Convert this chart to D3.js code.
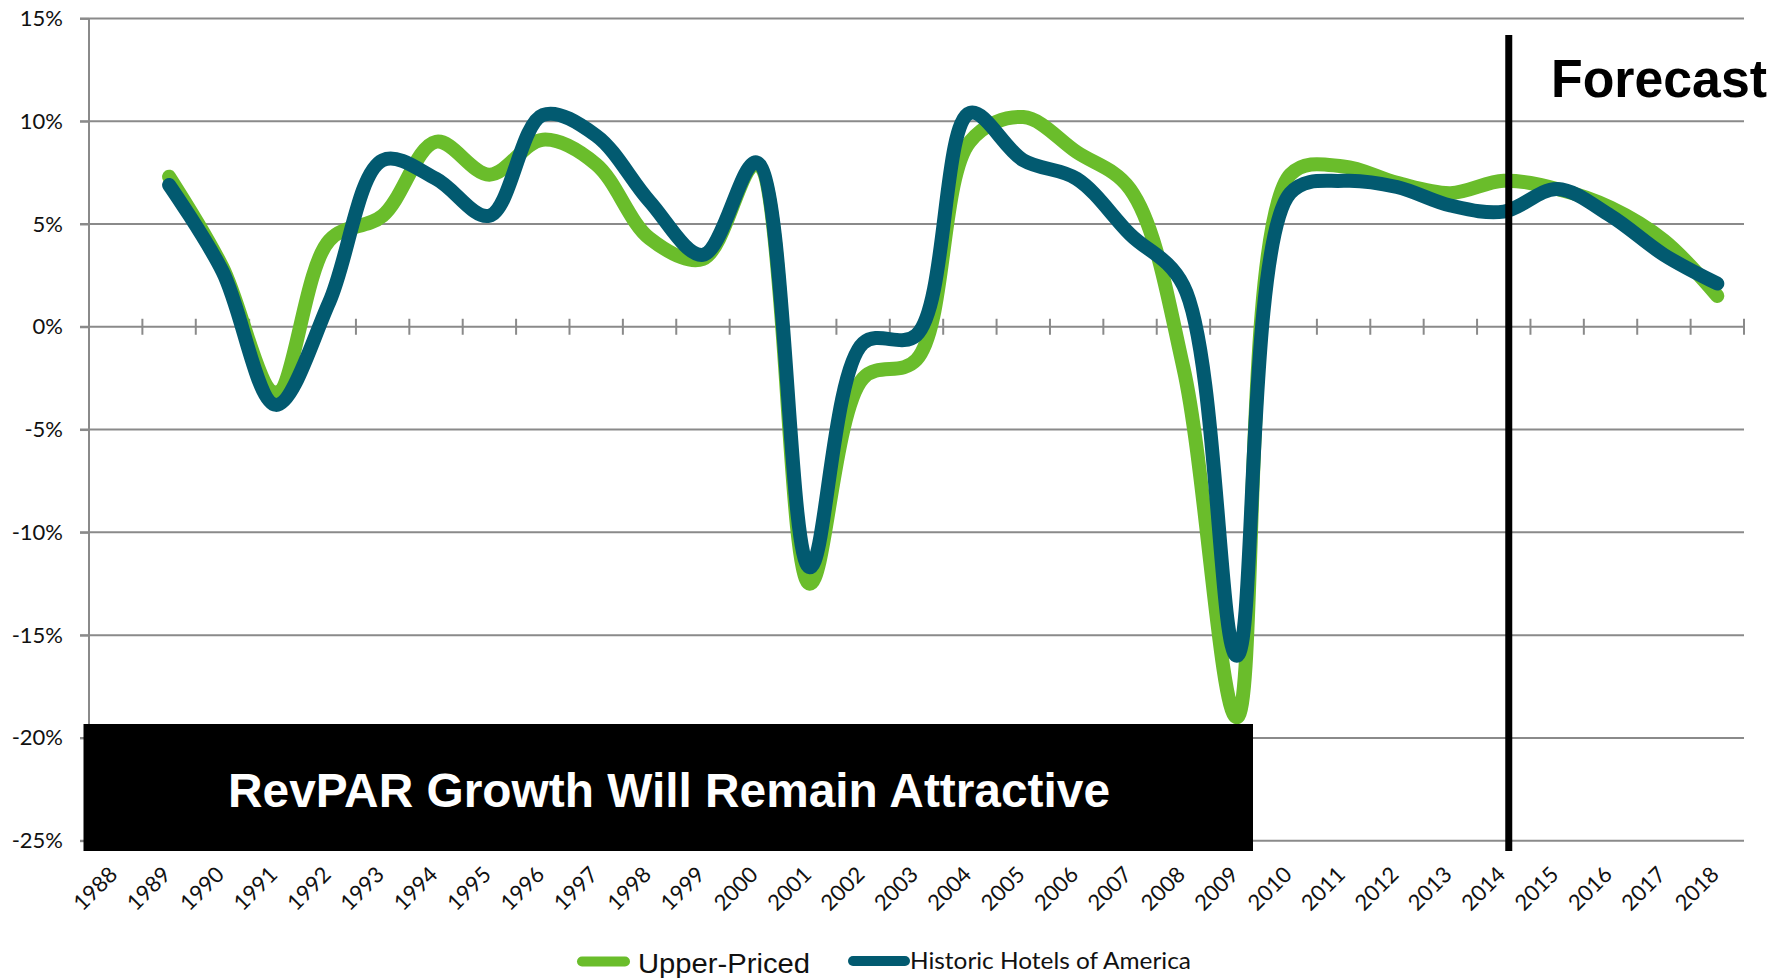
<!DOCTYPE html>
<html><head><meta charset="utf-8">
<script src="https://cdn.jsdelivr.net/npm/d3@7"></script>
<style>body{margin:0;background:#fff;} svg{display:block;background:#fff}</style>
</head><body><svg id="c" width="1791" height="978"></svg>
<script>
// ---- data ----
const categories = ["1988","1989","1990","1991","1992","1993","1994","1995","1996","1997","1998","1999","2000","2001","2002","2003","2004","2005","2006","2007","2008","2009","2010","2011","2012","2013","2014","2015","2016","2017","2018"];
const upperPriced =    [null, 7.3, 2.9, -3.2, 4.2, 5.4, 9.0, 7.4, 9.1, 7.9, 4.3, 3.3, 7.9, -12.5, -2.5, -1.6, 9.0, 10.2, 8.5, 6.7, -2.0, -19.0, 7.4, 7.8, 7.0, 6.5, 7.1, 6.7, 5.8, 4.2, 1.5];
const historicHotels = [null, 6.9, 2.7, -3.8, 1.2, 8.1, 7.2, 5.4, 10.3, 9.3, 6.1, 3.5, 8.0, -11.7, -0.8, -0.4, 10.4, 8.1, 7.2, 4.5, 2.0, -16.0, 6.5, 7.1, 6.8, 5.9, 5.6, 6.7, 5.4, 3.5, 2.1];
const yTickValues = [-25, -20, -15, -10, -5, 0, 5, 10, 15];
const seriesNames = ["Upper-Priced", "Historic Hotels of America"];
const seriesColors = ["#6abd2b", "#025a70"];
const bannerText = "RevPAR Growth Will Remain Attractive";
const forecastLabel = "Forecast";
const forecastYear = "2014";

(function () {
// ---- layout ----
const svg = d3.select("#c");
const plotL = 89, plotR = 1744, plotT = 18.4, plotB = 840.7;
const x = d3.scaleBand().domain(categories).range([plotL, plotR]).padding(0);
const y = d3.scaleLinear().domain([-25, 15]).range([plotB, plotT]);
const cx = c => x(c) + x.bandwidth() / 2;
const gridColor = "#8a8a8a";

// gridlines
svg.append("g").selectAll("line").data(yTickValues).join("line")
  .attr("x1", 80).attr("x2", plotR)
  .attr("y1", d => y(d)).attr("y2", d => y(d))
  .attr("stroke", gridColor).attr("stroke-width", 2);

// y axis (labels)
const yAxis = svg.append("g").attr("transform", `translate(${plotL},0)`)
  .call(d3.axisLeft(y).tickValues(yTickValues).tickSize(9).tickPadding(17).tickFormat(d => d + "%"));
yAxis.select(".domain").remove();
yAxis.selectAll("line").attr("stroke", gridColor).attr("stroke-width", 2);
yAxis.selectAll("text").attr("font-family", "Lato, 'Open Sans', sans-serif").attr("font-size", 22).attr("fill", "#111");

// y axis line
svg.append("line").attr("x1", plotL).attr("x2", plotL).attr("y1", plotT).attr("y2", plotB)
  .attr("stroke", gridColor).attr("stroke-width", 2);

// x tick marks on the zero line at category boundaries
const boundaries = categories.map(c => x(c)).concat([plotR]);
svg.append("g").selectAll("line").data(boundaries).join("line")
  .attr("x1", d => d).attr("x2", d => d)
  .attr("y1", y(0) - 8).attr("y2", y(0) + 8)
  .attr("stroke", gridColor).attr("stroke-width", 2);

// x labels
const xAxis = svg.append("g").call(d3.axisBottom(x).tickSize(0));
xAxis.select(".domain").remove();
xAxis.selectAll("text")
  .attr("y", 0).attr("dy", 0).attr("x", 0)
  .attr("text-anchor", "end")
  .attr("transform", "translate(3,876) rotate(-45)")
  .attr("font-family", "Lato, 'Open Sans', sans-serif").attr("font-size", 22).attr("fill", "#111");

// lines
const line = d3.line()
  .defined(d => d.v !== null)
  .x(d => cx(d.c)).y(d => y(d.v))
  .curve(d3.curveCatmullRom.alpha(0.5));
[upperPriced, historicHotels].forEach((vals, i) => {
  const pts = categories.map((c, j) => ({c, v: vals[j]}));
  svg.append("path").datum(pts)
    .attr("d", line)
    .attr("fill", "none")
    .attr("stroke", seriesColors[i])
    .attr("stroke-width", 14)
    .attr("stroke-linecap", "round")
    .attr("stroke-linejoin", "round");
});

// forecast divider
const fx = cx(forecastYear) + 5;
svg.append("line").attr("x1", fx).attr("x2", fx).attr("y1", 35).attr("y2", 851)
  .attr("stroke", "#000").attr("stroke-width", 7);
svg.append("text").attr("x", 1551).attr("y", 97)
  .attr("font-family", "'Liberation Sans', Arial, sans-serif").attr("font-weight", "bold")
  .attr("font-size", 54).attr("textLength", 216).attr("lengthAdjust", "spacingAndGlyphs")
  .attr("fill", "#000").text(forecastLabel);

// banner
svg.append("rect").attr("x", 83.5).attr("y", 724).attr("width", 1253 - 83.5).attr("height", 851 - 724)
  .attr("fill", "#000");
svg.append("text").attr("x", 228).attr("y", 807)
  .attr("font-family", "'Liberation Sans', Arial, sans-serif").attr("font-weight", "bold")
  .attr("font-size", 48).attr("textLength", 882).attr("lengthAdjust", "spacingAndGlyphs")
  .attr("fill", "#fff").text(bannerText);

// legend
const legend = [
  {sx1: 582, sx2: 625, sy: 961.5, tx: 638, ty: 973, font: "'Liberation Sans', Arial, sans-serif", size: 28, len: 172},
  {sx1: 853, sx2: 905, sy: 961, tx: 910, ty: 969, font: "Lato, 'Open Sans', sans-serif", size: 23, len: 281}
];
legend.forEach((l, i) => {
  svg.append("line").attr("x1", l.sx1).attr("x2", l.sx2).attr("y1", l.sy).attr("y2", l.sy)
    .attr("stroke", seriesColors[i]).attr("stroke-width", 10).attr("stroke-linecap", "round");
  svg.append("text").attr("x", l.tx).attr("y", l.ty)
    .attr("font-family", l.font).attr("font-size", l.size)
    .attr("textLength", l.len).attr("lengthAdjust", "spacingAndGlyphs")
    .attr("fill", "#111").text(seriesNames[i]);
});
})();
</script></body></html>
